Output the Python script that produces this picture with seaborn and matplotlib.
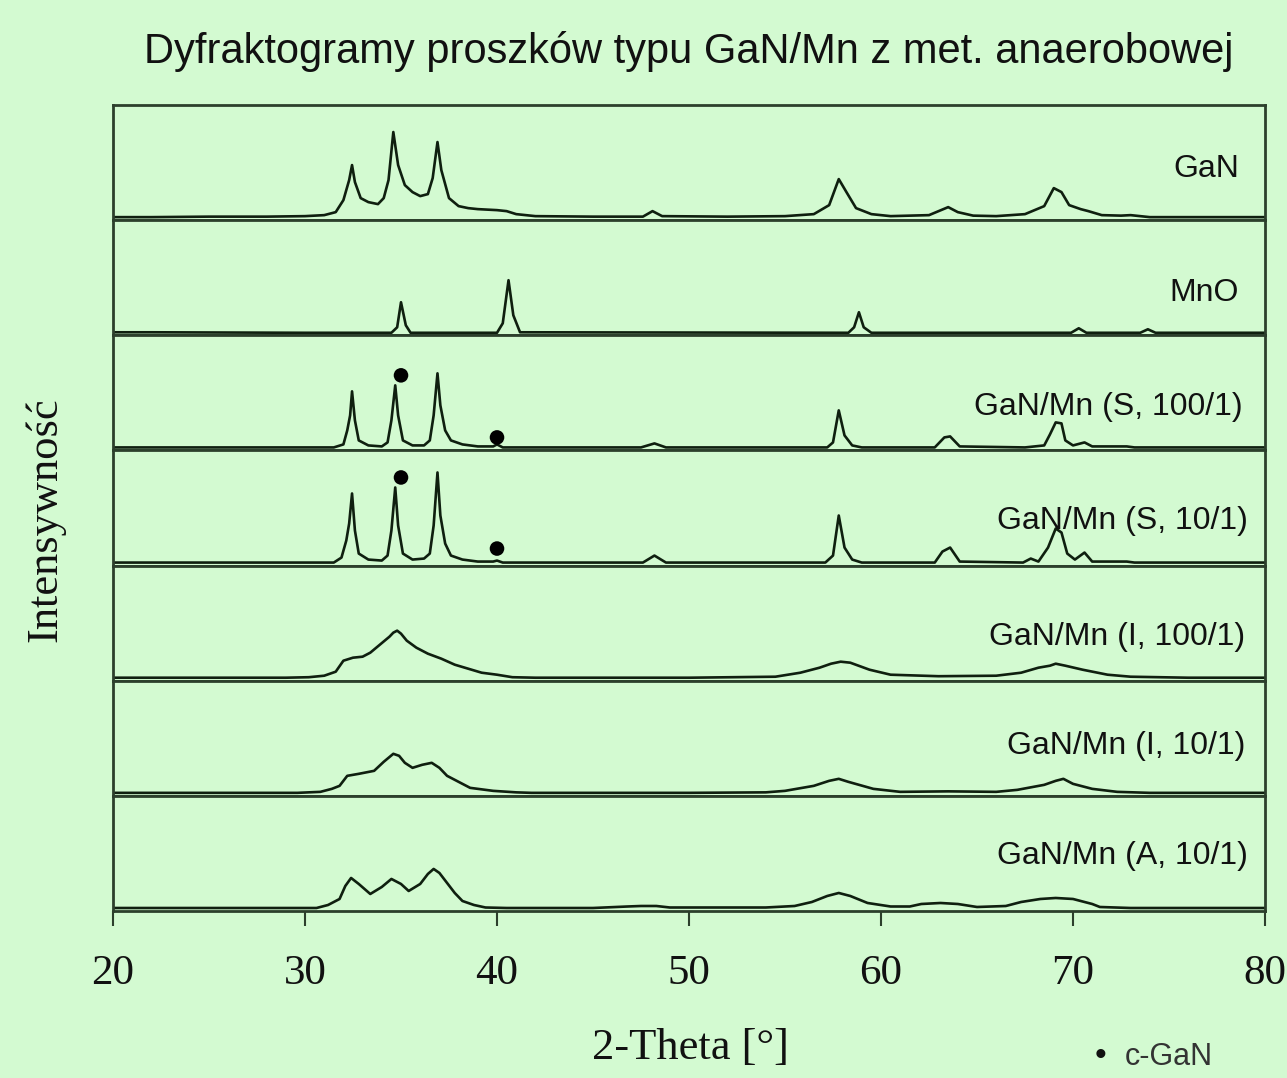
import matplotlib
matplotlib.use("Agg")
import matplotlib.pyplot as plt
import seaborn as sns

# ---------------- data (2-theta, intensity) ----------------
gan_x = [20, 22, 25, 28, 30, 31, 31.6, 32.0, 32.3, 32.45, 32.6, 32.9, 33.3, 33.8, 34.1, 34.35, 34.6, 34.85,
         35.2, 35.6, 36.0, 36.4, 36.65, 36.9, 37.1, 37.5, 38, 38.5, 39, 40, 40.5, 41, 42, 45, 47.6, 48.1, 48.6,
         52, 55, 56.5, 57.3, 57.8, 58.2, 58.7, 59.5, 60.5, 62.5, 63.0, 63.5, 64, 64.8, 66, 67.5, 68.5, 69.0,
         69.4, 69.8, 70.4, 70.8, 71.5, 72.5, 73, 74, 80]
gan_y = [3, 3, 3.5, 3.5, 4, 5, 8, 20, 40, 55, 38, 22, 18, 16, 22, 40, 88, 55,
         35, 28, 24, 26, 42, 78, 50, 22, 14, 12, 11, 10, 9, 6, 4, 3.5, 3.5, 9, 4,
         3.5, 4, 6, 15, 41, 28, 12, 6, 4, 5, 9, 13, 8, 4.5, 4, 6, 14, 32,
         28, 15, 11, 9, 5, 4.5, 5, 3, 3]

mno_x = [20, 22, 30, 34.5, 34.8, 35.0, 35.25, 35.5, 40.0, 40.3, 40.6, 40.85, 41.2, 58.3, 58.6, 58.85,
         59.1, 59.5, 69.9, 70.3, 70.7, 73.5, 73.9, 74.3, 80]
mno_y = [3, 3, 2.5, 2.5, 8, 33, 10, 2.5, 2.5, 12, 55, 20, 3, 2.5, 8, 23,
         8, 2.5, 2.5, 7, 2.5, 2.5, 6, 2.5, 2.5]

s100_x = [20, 30, 31.5, 32.0, 32.2, 32.35, 32.45, 32.6, 32.8, 33.3, 34.0, 34.3, 34.5, 34.7, 34.85, 35.1,
          35.6, 36.2, 36.5, 36.7, 36.9, 37.05, 37.3, 37.6, 38.2, 39, 39.8, 40.0, 40.3, 47.5, 48.2, 48.8,
          57.2, 57.5, 57.8, 58.1, 58.5, 59, 62.8, 63.3, 63.6, 64.1, 67.5, 68.5, 68.8, 69.1, 69.4, 69.6,
          70.0, 70.6, 71.0, 72.8, 73.2, 80]
s100_y = [3, 3, 3, 6, 20, 35, 59, 30, 10, 5, 4, 8, 30, 65, 35, 10,
          5, 5, 10, 35, 77, 45, 20, 10, 6, 4, 4, 6, 3, 3, 7, 3,
          3, 8, 40, 15, 5, 3, 3, 13, 14, 4, 3, 5, 16, 28, 27, 10,
          5, 8, 4, 4, 3, 3]

s10_x = [20, 30, 31.5, 31.9, 32.15, 32.3, 32.45, 32.6, 32.8, 33.3, 34.0, 34.3, 34.5, 34.7, 34.85, 35.1,
         35.6, 36.2, 36.5, 36.7, 36.9, 37.05, 37.3, 37.6, 38.2, 39, 39.8, 40.0, 40.3, 47.6, 48.2, 48.8,
         57.1, 57.5, 57.8, 58.1, 58.5, 59, 62.8, 63.2, 63.6, 64.1, 67.4, 67.8, 68.2, 68.7, 69.1, 69.4,
         69.7, 70.1, 70.6, 71.0, 72.8, 73.2, 80]
s10_y = [3, 3, 3, 8, 25, 42, 72, 35, 12, 6, 5, 10, 35, 78, 40, 12,
         6, 7, 12, 40, 93, 50, 22, 10, 6, 4, 4, 5, 3, 3, 10, 3,
         3, 10, 50, 18, 6, 3, 3, 14, 18, 4, 3, 7, 4, 18, 37, 33,
         12, 6, 13, 4, 4, 3, 3]

i100_x = [20, 25, 29, 30.2, 31.0, 31.6, 32.0, 32.5, 33.0, 33.4, 33.9, 34.4, 34.6, 34.8, 35.0, 35.3, 35.8,
          36.4, 37.1, 37.8, 38.5, 39.2, 40.0, 40.8, 42, 45, 50, 54.5, 55.8, 56.8, 57.4, 57.9, 58.4, 59.4,
          60.5, 63, 66, 67.3, 68.2, 68.8, 69.1, 69.6, 70.5, 71.8, 73, 76, 80]
i100_y = [3, 3, 3, 3.5, 5, 9, 20, 23, 24, 28, 36, 44, 48, 50, 47, 40, 33,
          27, 22, 16, 12, 8, 6, 3.5, 3, 3, 3, 4, 8, 13, 17, 19, 18, 11,
          6, 4.5, 5, 8, 13, 15, 17, 15, 11, 6, 4, 3, 3]

i10_x = [20, 25, 29.6, 30.8, 31.4, 31.8, 32.2, 32.8, 33.6, 34.1, 34.6, 34.9, 35.2, 35.6, 36.1, 36.6,
         37.0, 37.4, 38.0, 38.6, 39.8, 41.0, 41.8, 45, 50, 54, 55, 56.5, 57.3, 57.8, 58.3, 59.6, 61,
         63.5, 66, 67.1, 68.5, 69.1, 69.5, 70.0, 71.0, 72.3, 74, 80]
i10_y = [3, 3, 3, 4, 7, 10, 20, 22, 25, 34, 42, 40, 33, 28, 31, 33,
         28, 20, 14, 8, 5, 3.5, 3, 3, 3, 3.5, 5, 10, 15, 17, 14, 7, 4,
         4.5, 4, 6, 11, 15, 17, 12, 7, 4, 3, 3]

a10_x = [20, 25, 29, 30.6, 31.2, 31.8, 32.1, 32.4, 32.8, 33.4, 34.0, 34.5, 35.0, 35.4, 36.0, 36.4, 36.7,
         37.0, 37.4, 37.8, 38.2, 38.8, 39.4, 40.5, 45, 46.8, 47.5, 48.3, 49, 54, 55.5, 56.4, 57.2, 57.8,
         58.4, 59.3, 60.5, 61.5, 62.1, 63.1, 64.0, 65, 66.5, 67.3, 68.3, 69.1, 70.0, 71.0, 71.4, 73, 80]
a10_y = [3, 3, 3, 3, 6, 12, 25, 33, 27, 17, 24, 32, 27, 20, 27, 37, 42,
         38, 28, 18, 10, 6, 3.5, 3, 3, 4.5, 5, 5, 3.5, 3.5, 5, 9, 15, 18,
         15, 8, 4.5, 4.5, 7, 8, 7, 4, 5, 9, 12, 13, 12, 7, 4, 3, 3]

cgan_x_s100 = [35.0, 40.0]
cgan_y_s100 = [75, 13]
cgan_x_s10 = [35.0, 40.0]
cgan_y_s10 = [88, 17]

series_x = [gan_x, mno_x, s100_x, s10_x, i100_x, i10_x, a10_x]
series_y = [gan_y, mno_y, s100_y, s10_y, i100_y, i10_y, a10_y]
labels = ["GaN", "MnO", "GaN/Mn (S, 100/1)", "GaN/Mn (S, 10/1)",
          "GaN/Mn (I, 100/1)", "GaN/Mn (I, 10/1)", "GaN/Mn (A, 10/1)"]
xticks = [20, 30, 40, 50, 60, 70, 80]

title = "Dyfraktogramy proszków typu GaN/Mn z met. anaerobowej"
xlabel = "2-Theta [°]"
ylabel = "Intensywność"
legend_label = "c-GaN"

# ---------------- style ----------------
BG = "#D3FAD1"
LINE = "#0f1f0f"
FRAME = "#2c3f2c"
label_xpos = [0.978, 0.977, 0.981, 0.985, 0.983, 0.983, 0.985]
label_ypos = [0.44, 0.37, 0.38, 0.39, 0.38, 0.435, 0.48]

sns.set_theme(style="white")
plt.rcParams["font.family"] = ["Liberation Sans", "DejaVu Sans"]

W, H = 1287, 1078
fig = plt.figure(figsize=(W / 100, H / 100), dpi=100, facecolor=BG)
left, right = 113 / W, 1265 / W
top, bottom = 1 - 105 / H, 1 - 911 / H
gs = fig.add_gridspec(7, 1, left=left, right=right, top=top, bottom=bottom, hspace=0)

axes = []
for i in range(7):
    ax = fig.add_subplot(gs[i, 0])
    ax.set_facecolor(BG)
    sns.lineplot(x=series_x[i], y=series_y[i], ax=ax, sort=False, estimator=None,
                 color=LINE, linewidth=1.9)
    ax.set_xlim(20, 80)
    ax.set_ylim(0, 115)
    ax.set_yticks([])
    for sp in ax.spines.values():
        sp.set_color(FRAME)
        sp.set_linewidth(2.0)
        sp.set_visible(True)
    ax.text(label_xpos[i], label_ypos[i], labels[i], transform=ax.transAxes,
            ha="right", va="center", fontsize=23, color="#111111")
    if i < 6:
        ax.set_xticks([])
    axes.append(ax)

sns.scatterplot(x=cgan_x_s100, y=cgan_y_s100, ax=axes[2], color="black", s=110, edgecolor="none", zorder=5)
sns.scatterplot(x=cgan_x_s10, y=cgan_y_s10, ax=axes[3], color="black", s=110, edgecolor="none", zorder=5)

axb = axes[6]
axb.set_xticks(xticks)
axb.set_xticklabels([str(t) for t in xticks], family="Liberation Serif", fontsize=31, color="#111111")
axb.tick_params(axis="x", direction="out", length=11, width=1.5, color=FRAME, pad=20, bottom=True)

fig.text(689 / W, 1 - 52 / H, title, ha="center", va="center", fontsize=30, color="#111111")
fig.text(690 / W, 1 - 1048 / H, xlabel, ha="center", va="center", fontsize=32,
         family="Liberation Serif", color="#111111")
fig.text(45 / W, 1 - 520 / H, ylabel, ha="center", va="center", rotation=90, fontsize=32,
         family="Liberation Serif", color="#111111")
fig.text(1100 / W, 1 - 1057 / H, "•", ha="center", va="center", fontsize=24, color="#111111")
fig.text(1125 / W, 1 - 1057 / H, legend_label, ha="left", va="center", fontsize=22, color="#333333")

fig.savefig("out.png", dpi=100, facecolor=BG)
